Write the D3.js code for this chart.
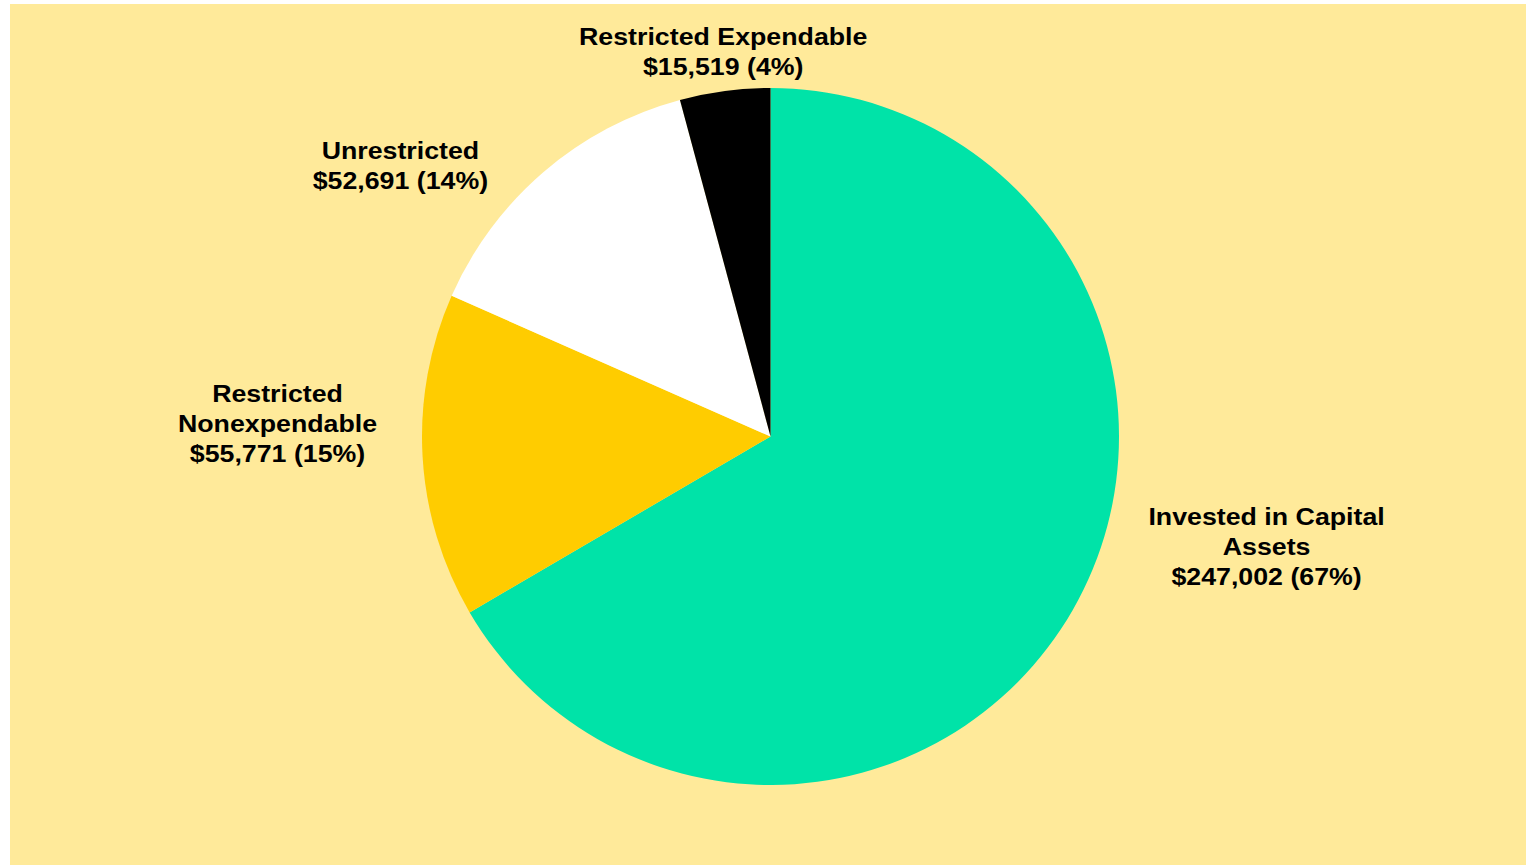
<!DOCTYPE html>
<html>
<head>
<meta charset="utf-8">
<script src="https://cdn.jsdelivr.net/npm/d3@7"></script>
<style>
  html, body { margin: 0; padding: 0; background: #ffffff; }
  svg { display: block; }
  text { font-family: "Liberation Sans", Arial, sans-serif; font-weight: bold; }
</style>
</head>
<body>
<svg id="chart"></svg>
<script>
// Net position slices, clockwise from 12 o'clock
const names = [
    ["Invested in Capital", "Assets"],
    ["Restricted", "Nonexpendable"],
    ["Unrestricted"],
    ["Restricted Expendable"]
];
const amounts = [247002, 55771, 52691, 15519];
const percents = ["67%", "15%", "14%", "4%"];
const colors = ["#00e3a8", "#ffcc00", "#ffffff", "#000000"];

// label centres: angle (deg, clockwise from top) and distance in radii
const labelAngle = [102.5, 271.5, 306.2, 353.0];
const labelDist = [1.458, 1.415, 1.316, 1.113];

const width = 1526, height = 865;
const cx = 770.5, cy = 436.5, radius = 348.5;
const lineH = 30;
const stretch = 1.115; // labels are drawn a bit wide in the original

const svg = d3.select("#chart")
    .attr("width", width)
    .attr("height", height);

svg.append("rect")
    .attr("x", 10)
    .attr("y", 4)
    .attr("width", width - 10)
    .attr("height", height - 4)
    .attr("fill", "#ffea9a");

const pie = d3.pie().sort(null).startAngle(0).endAngle(2 * Math.PI);
const arc = d3.arc().innerRadius(0).outerRadius(radius);

const g = svg.append("g").attr("transform", `translate(${cx},${cy})`);

g.selectAll("path.slice")
    .data(pie(amounts))
    .join("path")
    .attr("class", "slice")
    .attr("d", arc)
    .attr("fill", (d, i) => colors[i]);

const fmt = d3.format(",");

const labels = g.selectAll("text.lbl")
    .data(amounts)
    .join("text")
    .attr("class", "lbl")
    .attr("text-anchor", "middle")
    .attr("font-size", 24)
    .attr("fill", "#000")
    .attr("transform", (v, i) => {
        const a = labelAngle[i] * Math.PI / 180;
        const x = Math.sin(a) * labelDist[i] * radius;
        const y = -Math.cos(a) * labelDist[i] * radius;
        return `translate(${x},${y}) scale(${stretch},1)`;
    });

labels.each(function(v, i) {
    const lines = names[i].concat([`$${fmt(v)} (${percents[i]})`]);
    const top = -(lines.length - 1) * lineH / 2;
    d3.select(this).selectAll("tspan")
        .data(lines)
        .join("tspan")
        .attr("x", 0)
        .attr("y", (d, k) => top + k * lineH)
        .attr("dy", "0.35em")
        .text(d => d);
});
</script>
</body>
</html>
